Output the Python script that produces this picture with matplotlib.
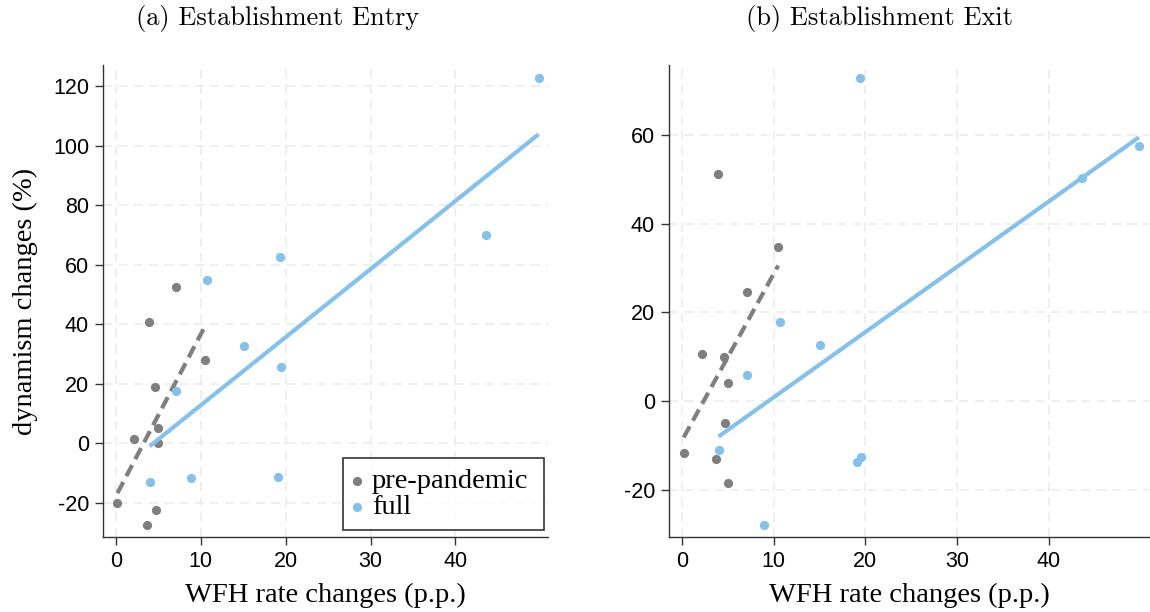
import numpy as np
import matplotlib
matplotlib.use("Agg")
import matplotlib.pyplot as plt

plt.rcParams['axes.unicode_minus'] = False

# ---- data ----
x_pre = [0.2, 2.2, 3.7, 3.9, 4.6, 4.7, 5.0, 5.0, 7.05, 10.5]
x_full = [4.0, 7.1, 8.9, 10.7, 15.1, 19.1, 19.4, 19.5, 43.6, 49.8]

entry_pre = [-20.0, 1.3, -27.4, 40.7, 19.0, -22.5, 5.1, 0.1, 52.4, 27.9]
entry_full = [-12.9, 17.5, -11.7, 54.9, 32.7, -11.4, 62.6, 25.6, 70.2, 122.8]

exit_pre = [-11.8, 10.7, -13.1, 51.1, 9.9, -5.0, 4.1, -18.6, 24.5, 34.8]
exit_full = [-11.0, 5.9, -27.9, 17.7, 12.6, -13.8, 72.8, -12.6, 50.2, 57.5]

titles = ["(a) Establishment Entry", "(b) Establishment Exit"]
xticks = [0, 10, 20, 30, 40]
yticks_entry = [-20, 0, 20, 40, 60, 80, 100, 120]
yticks_exit = [-20, 0, 20, 40, 60]

GRAY = "#7f7f7f"
BLUE = "#85c1e9"

fig = plt.figure(figsize=(11.5, 6.12), dpi=100)
ax1 = fig.add_axes([103/1150, 75/612, 445/1150, 472/612])
ax2 = fig.add_axes([669/1150, 75/612, 480/1150, 472/612])

serif = "Liberation Serif"
sans = "Liberation Sans"


def draw(ax, ypre, yfull, yticks, ylim, xlim):
    ax.scatter(x_pre, ypre, s=44, color=GRAY, zorder=2, label="pre-pandemic", linewidths=0)
    b, a = np.polyfit(x_pre, ypre, 1)
    xs = np.array([min(x_pre), max(x_pre)])
    ax.plot(xs, a + b * xs, color=GRAY, lw=3, dashes=(3, 1.6), zorder=3, solid_capstyle='butt')
    ax.scatter(x_full, yfull, s=44, color=BLUE, zorder=4, label="full", linewidths=0)
    b, a = np.polyfit(x_full, yfull, 1)
    xs = np.array([min(x_full), max(x_full)])
    ax.plot(xs, a + b * xs, color=BLUE, lw=3, zorder=5, solid_capstyle='butt')

    ax.set_xlim(*xlim)
    ax.set_ylim(*ylim)
    ax.set_xticks(xticks)
    ax.set_yticks(yticks)
    ax.grid(True, color="#ebebeb", lw=1.1, ls=(0, (6, 4)), zorder=0)
    ax.set_axisbelow(True)
    for s in ["top", "right"]:
        ax.spines[s].set_visible(False)
    for s in ["left", "bottom"]:
        ax.spines[s].set_color("#333333")
        ax.spines[s].set_linewidth(1.0)
    ax.tick_params(direction="out", length=6, width=1.0, color="#333333",
                   labelsize=15.5, pad=4)
    for lab in ax.get_xticklabels() + ax.get_yticklabels():
        lab.set_fontfamily(sans)
    ax.set_xlabel("WFH rate changes (p.p.)", fontfamily=serif, fontsize=20.5, labelpad=8)


draw(ax1, entry_pre, entry_full, yticks_entry, (-31.5, 127.2), (-1.5, 50.9))
draw(ax2, exit_pre, exit_full, yticks_exit, (-30.7, 75.8), (-1.4, 50.9))

ax1.set_ylabel("dynamism changes (%)", fontfamily=serif, fontsize=20.5, labelpad=11)

leg = ax1.legend(loc="lower left", bbox_to_anchor=(240/445, 7/472, 201/445, 73/472),
                 mode="expand", frameon=True,
                 fancybox=False, prop={"family": serif, "size": 20.5},
                 handletextpad=0.36, handlelength=0.3, labelspacing=0.0,
                 borderpad=0.35, borderaxespad=0.0, markerscale=1.0)
leg.get_frame().set_edgecolor("black")
leg.get_frame().set_linewidth(1.2)

fig.text(278/1150, 1 - 19/612, titles[0], fontfamily="cmr10", fontsize=19,
         ha="center", va="center")
fig.text(880/1150, 1 - 19/612, titles[1], fontfamily="cmr10", fontsize=19,
         ha="center", va="center")

fig.savefig("out.png", dpi=100)
